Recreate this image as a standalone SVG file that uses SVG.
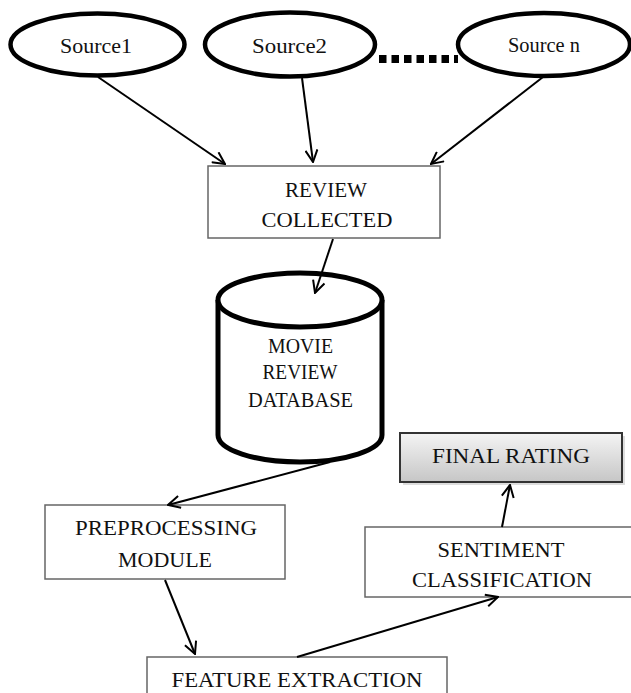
<svg xmlns="http://www.w3.org/2000/svg" width="631" height="693" viewBox="0 0 631 693">
<style>
text{font-family:"Liberation Serif","Times New Roman",serif;fill:#111;text-anchor:middle;font-size:20px}
.src{fill:#fff;stroke:#000;stroke-width:4.5}
.box{fill:#fff;stroke:#666;stroke-width:1.5}
.cyl{fill:#fff;stroke:#000;stroke-width:5}
.conn{fill:none;stroke:#000;stroke-width:2}
</style>
<defs>
<marker id="arr" viewBox="0 0 14 14" refX="13" refY="7" markerWidth="14" markerHeight="14" markerUnits="userSpaceOnUse" orient="auto">
<path d="M1,1 L13,7 L1,13" fill="none" stroke="#000" stroke-width="2"/>
</marker>
<linearGradient id="grad" x1="0" y1="0" x2="0" y2="1">
<stop offset="0" stop-color="#f4f4f4"/>
<stop offset="1" stop-color="#c6c6c6"/>
</linearGradient>
</defs>
<g id="source1">
<ellipse class="src" cx="97.5" cy="44.5" rx="87" ry="31"/>
<text x="96" y="53" font-size="22" textLength="72" lengthAdjust="spacingAndGlyphs">Source1</text>
</g>
<g id="source2">
<ellipse class="src" cx="290" cy="44.5" rx="85" ry="32"/>
<text x="289.5" y="53" font-size="22" textLength="75" lengthAdjust="spacingAndGlyphs">Source2</text>
</g>
<g id="source-n">
<ellipse class="src" cx="544" cy="44.5" rx="86" ry="31.5"/>
<text x="544" y="52" font-size="20" textLength="72" lengthAdjust="spacingAndGlyphs">Source n</text>
</g>
<g id="review-collected">
<rect class="box" x="208" y="166" width="232" height="72"/>
<text x="326" y="197" textLength="82" lengthAdjust="spacingAndGlyphs">REVIEW</text>
<text x="327" y="227" textLength="131" lengthAdjust="spacingAndGlyphs">COLLECTED</text>
</g>
<g id="database">
<path class="cyl" d="M218,300 L218,435 A82,27 0 0 0 382,435 L382,300"/>
<ellipse class="cyl" cx="300" cy="300" rx="82" ry="27"/>
<text x="300.5" y="353" textLength="65" lengthAdjust="spacingAndGlyphs">MOVIE</text>
<text x="300" y="379" textLength="75" lengthAdjust="spacingAndGlyphs">REVIEW</text>
<text x="300.5" y="407" textLength="105" lengthAdjust="spacingAndGlyphs">DATABASE</text>
</g>
<g id="final-rating">
<rect x="403" y="436" width="222" height="49" fill="#ddd"/>
<rect x="400" y="433" width="222" height="49" fill="url(#grad)" stroke="#333" stroke-width="2"/>
<text x="511" y="463" textLength="158" lengthAdjust="spacingAndGlyphs">FINAL RATING</text>
</g>
<g id="preprocessing">
<rect class="box" x="45" y="505" width="240" height="74"/>
<text x="166" y="535" textLength="182" lengthAdjust="spacingAndGlyphs">PREPROCESSING</text>
<text x="165" y="567" textLength="94" lengthAdjust="spacingAndGlyphs">MODULE</text>
</g>
<g id="sentiment">
<rect class="box" x="365" y="527" width="280" height="70"/>
<text x="501" y="557" textLength="127" lengthAdjust="spacingAndGlyphs">SENTIMENT</text>
<text x="502" y="587" textLength="180" lengthAdjust="spacingAndGlyphs">CLASSIFICATION</text>
</g>
<g id="feature-extraction">
<rect class="box" x="147" y="657" width="300" height="50"/>
<text x="297" y="687" textLength="251" lengthAdjust="spacingAndGlyphs">FEATURE EXTRACTION</text>
</g>
<g id="connectors">
<line class="conn" x1="98" y1="77" x2="225" y2="164" marker-end="url(#arr)"/>
<line class="conn" x1="302" y1="78" x2="313" y2="162" marker-end="url(#arr)"/>
<line class="conn" x1="543" y1="77" x2="431" y2="164" marker-end="url(#arr)"/>
<line class="conn" x1="333" y1="239" x2="315" y2="293" marker-end="url(#arr)"/>
<line class="conn" x1="330" y1="462" x2="168" y2="505" marker-end="url(#arr)"/>
<line class="conn" x1="165" y1="580" x2="195" y2="654" marker-end="url(#arr)"/>
<line class="conn" x1="297" y1="657" x2="498" y2="597" marker-end="url(#arr)"/>
<line class="conn" x1="502" y1="527" x2="510" y2="485" marker-end="url(#arr)"/>
<line x1="379" y1="59" x2="458" y2="59" stroke="#000" stroke-width="8" stroke-dasharray="7.5 5"/>
</g>
</svg>
